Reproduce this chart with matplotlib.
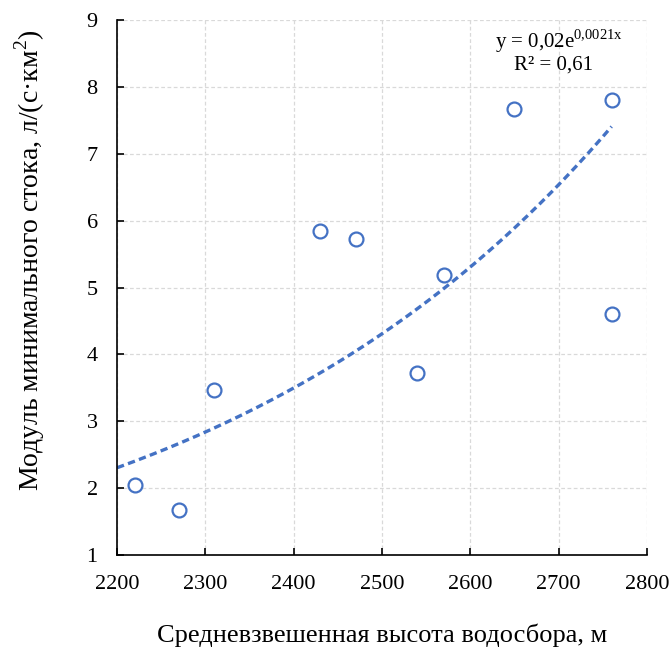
import numpy as np
import matplotlib
matplotlib.use("Agg")
import matplotlib.pyplot as plt

# Mean catchment elevation (m) vs minimum runoff modulus (l/(s*km2))
height = [2220, 2270, 2310, 2430, 2470, 2540, 2570, 2650, 2760, 2760]
runoff = [2.05, 1.67, 3.47, 5.84, 5.73, 3.72, 5.19, 7.67, 7.81, 4.61]

x_ticks = [2200, 2300, 2400, 2500, 2600, 2700, 2800]
y_ticks = [1, 2, 3, 4, 5, 6, 7, 8, 9]

blue = "#4472C4"
W, H = 669, 650


def main():
    plt.rcParams["font.family"] = ["Liberation Serif", "DejaVu Serif"]
    plt.rcParams["mathtext.fontset"] = "custom"
    plt.rcParams["mathtext.rm"] = "Liberation Serif"

    fig = plt.figure(figsize=(W / 100, H / 100), dpi=100)
    ax = fig.add_axes([0.175, 0.146, 0.792, 0.823])

    # exponential trendline fitted on ln(y), like Excel does
    b, ln_a = np.polyfit(height, np.log(runoff), 1)
    xt = np.linspace(2200, max(height), 200)
    yt = np.exp(ln_a) * np.exp(b * xt)
    ax.plot(xt, yt, color=blue, lw=2.4, ls=(0, (2.2, 1.3)), zorder=2)

    ax.plot(height, runoff, ls="none", marker="o", ms=10, mfc="white",
            mec=blue, mew=1.6, zorder=3)

    fig.text(559 / W, 1 - 41 / H, r"y = 0,02e$^{\mathregular{0{,}0021x}}$",
             ha="center", va="center", fontsize=15)
    fig.text(554 / W, 1 - 65 / H, "R² = 0,61",
             ha="center", va="center", fontsize=15)

    ax.set_xlim(2200, 2800)
    ax.set_ylim(1, 9)
    ax.set_xticks(x_ticks)
    ax.set_yticks(y_ticks)
    ax.grid(True, color="#d9d9d9", ls=(0, (3, 2)), lw=0.9)
    ax.set_axisbelow(True)
    for s in ["top", "right"]:
        ax.spines[s].set_visible(False)
    for s in ["left", "bottom"]:
        ax.spines[s].set_linewidth(1.2)
    ax.tick_params(direction="in", length=5, width=1.2, labelsize=16)
    ax.tick_params(axis="x", pad=14)
    ax.tick_params(axis="y", pad=14)

    ax.set_xlabel("Средневзвешенная высота водосбора, м", fontsize=19,
                  va="center")
    ax.xaxis.set_label_coords(0.5, -0.150)
    ax.set_ylabel(r"Модуль минимального стока, л/(с·км$^{\mathregular{2}}$)",
                  fontsize=20, va="center")
    ax.yaxis.set_label_coords(-0.164, 0.551)

    fig.savefig("out.png", dpi=100)


if __name__ == "__main__":
    main()
